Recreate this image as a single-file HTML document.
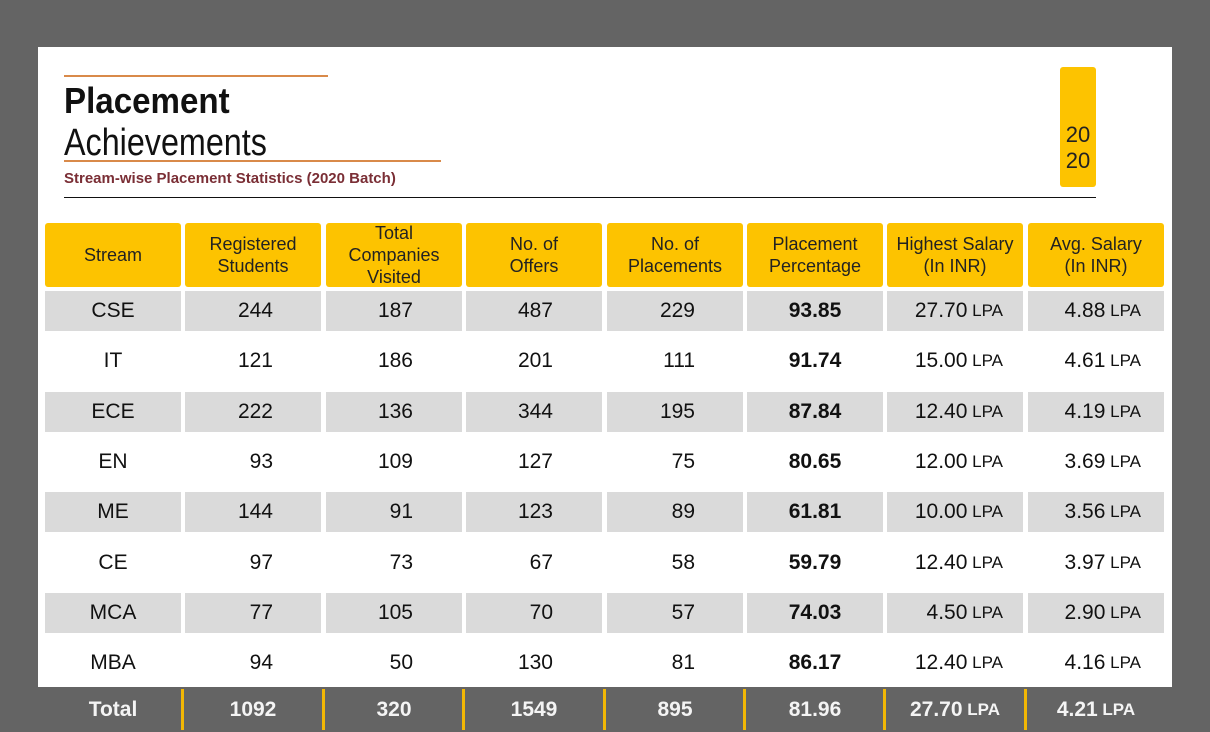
<!DOCTYPE html>
<html><head><meta charset="utf-8"><style>
body{margin:0;width:1210px;height:732px;background:#646464;position:relative;overflow:hidden;font-family:"Liberation Sans",sans-serif}
#panel{position:absolute;left:38px;top:47px;width:1134px;height:640px;background:#fff}
.abs{position:absolute}
.hdr{position:absolute;top:223px;height:64px;background:#fdc300;border-radius:3px;display:flex;align-items:center;justify-content:center;text-align:center;font-size:18px;line-height:22px;color:#222}
.cell{position:absolute;height:40px;display:flex;align-items:center;font-size:21px;color:#111;box-sizing:border-box}
.gray{background:#dadada}
.tot{position:absolute;top:687px;height:45px;display:flex;align-items:center;justify-content:center;color:#f4f4f4;font-weight:bold;font-size:21px}
.sep{position:absolute;top:689px;width:3px;height:41px;background:#f2b705}
.lpa{font-size:17px}
</style></head><body>
<div id="panel"></div>
<div class="abs" style="left:64px;top:75px;width:264px;height:2px;background:#d98a4a"></div>
<div class="abs" style="left:64px;top:80px;font-size:36px;font-weight:bold;color:#111;transform:scaleX(0.92);transform-origin:left">Placement</div>
<div class="abs" style="left:64px;top:122px;font-size:38px;color:#111;transform:scaleX(0.85);transform-origin:left">Achievements</div>
<div class="abs" style="left:64px;top:160px;width:377px;height:2px;background:#d98a4a"></div>
<div class="abs" style="left:64px;top:170px;font-size:15px;font-weight:bold;color:#7a2e35">Stream-wise Placement Statistics (2020 Batch)</div>
<div class="abs" style="left:64px;top:197px;width:1032px;height:1px;background:#111"></div>
<div class="abs" style="left:1060px;top:67px;width:36px;height:120px;background:#fdc300;border-radius:3px;font-size:22px;line-height:26px;color:#222;text-align:center;box-sizing:border-box;padding-top:55px">20<br>20</div>
<div id="tbl"></div>
<script>
const headers=["Stream","Registered<br>Students","Total<br>Companies<br>Visited","No. of<br>Offers","No. of<br>Placements","Placement<br>Percentage","Highest Salary<br>(In INR)","Avg. Salary<br>(In INR)"];
const streams=["CSE","IT","ECE","EN","ME","CE","MCA","MBA"];
const registered=[244,121,222,93,144,97,77,94];
const companies=[187,186,136,109,91,73,105,50];
const offers=[487,201,344,127,123,67,70,130];
const placements=[229,111,195,75,89,58,57,81];
const percentage=["93.85","91.74","87.84","80.65","61.81","59.79","74.03","86.17"];
const highest=["27.70","15.00","12.40","12.00","10.00","12.40","4.50","12.40"];
const avg=["4.88","4.61","4.19","3.69","3.56","3.97","2.90","4.16"];
const totals=["Total","1092","320","1549","895","81.96","27.70","4.21"];
const colX=[45,185,326,466,607,747,887,1028];
const colW=136;
const tbl=document.getElementById('tbl');
headers.forEach((h,i)=>{const d=document.createElement('div');d.className='hdr';


d.style.left=colX[i]+'px';d.style.width=colW+'px';d.innerHTML=h;tbl.appendChild(d);});
const pad=[null,48,49,49,48,null,20,23];
streams.forEach((s,r)=>{
 const vals=[s,registered[r],companies[r],offers[r],placements[r],percentage[r],highest[r],avg[r]];
 const y=291+r*50.3;
 vals.forEach((v,i)=>{const d=document.createElement('div');
 d.className='cell'+(r%2==0?' gray':'');
 
 
 d.style.left=colX[i]+'px';d.style.width=colW+'px';d.style.top=y+'px';
 if(pad[i]==null){d.style.justifyContent='center';}else{d.style.justifyContent='flex-end';d.style.paddingRight=pad[i]+'px';}
 if(i==5)d.style.fontWeight='bold';
 d.innerHTML=(i>=6)?v+' <span class="lpa">&nbsp;LPA</span>':v;
 tbl.appendChild(d);});
});
totals.forEach((v,i)=>{const d=document.createElement('div');d.className='tot';


d.style.left=colX[i]+'px';d.style.width=colW+'px';
d.innerHTML=(i>=6)?v+'<span class="lpa">&nbsp;LPA</span>':v;tbl.appendChild(d);
if(i>0){const s=document.createElement('div');s.className='sep';


s.style.left=(colX[i]-4)+'px';tbl.appendChild(s);}});
</script>
</body></html>
